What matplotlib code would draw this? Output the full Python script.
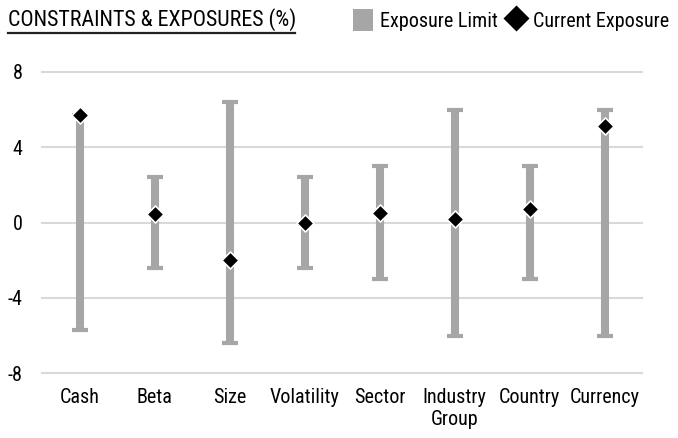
import matplotlib
matplotlib.use("Agg")
import matplotlib.pyplot as plt
from matplotlib import font_manager as fm
from matplotlib.lines import Line2D
from matplotlib.patches import Patch

# pick a narrow sans-serif close to Arial Narrow
installed = set(f.name for f in fm.fontManager.ttflist)
for fam in ['Liberation Sans Narrow', 'Arial Narrow', 'Roboto Condensed',
            'Archivo Narrow', 'PT Sans Narrow', 'Liberation Sans']:
    if fam in installed:
        break
plt.rcParams['font.family'] = [fam, 'DejaVu Sans']

# ---------------------------------------------------------------------------
# Data
# ---------------------------------------------------------------------------
categories = ["Cash", "Beta", "Size", "Volatility", "Sector",
              "Industry\nGroup", "Country", "Currency"]
limit_low = [-5.7, -2.4, -6.4, -2.4, -3.0, -6.0, -3.0, -6.0]
limit_high = [5.7, 2.4, 6.4, 2.4, 3.0, 6.0, 3.0, 6.0]
current_exposure = [5.7, 0.43, -2.0, 0.0, 0.48, 0.2, 0.74, 5.1]
y_ticks = [-8, -4, 0, 4, 8]

colors = {
    'bar': '#A6A6A6',
    'grid': '#D9D9D9',
    'marker': '#000000',
    'text': '#000000',
}

# ---------------------------------------------------------------------------
# Plot
# ---------------------------------------------------------------------------
fig = plt.figure(figsize=(6.78, 4.38), dpi=100)
ax = fig.add_axes([0.062, 0.148, 0.885, 0.688])

x = list(range(len(categories)))
mid = [(lo + hi) / 2 for lo, hi in zip(limit_low, limit_high)]
half = [(hi - lo) / 2 for lo, hi in zip(limit_low, limit_high)]

ax.errorbar(x, mid, yerr=half, fmt='none', ecolor=colors['bar'],
            elinewidth=5.8, capsize=5.8, capthick=3, zorder=2)
ax.scatter(x, current_exposure, marker='D', s=75, color=colors['marker'],
           edgecolors='white', linewidths=1.2, zorder=3)

ax.set_xlim(-0.5, len(categories) - 0.5)
ax.set_ylim(-8, 8)
ax.set_yticks(y_ticks)
ax.set_yticklabels([str(t) for t in y_ticks])
ax.set_xticks(x)
ax.set_xticklabels(categories, linespacing=1.2)

ax.grid(True, axis='y', color=colors['grid'], linewidth=1.5, zorder=0)
ax.set_axisbelow(True)
for gl in ax.get_ygridlines():
    gl.set_clip_on(False)
for s in ax.spines.values():
    s.set_visible(False)
ax.tick_params(axis='both', length=0, labelsize=14.5, colors=colors['text'])
ax.tick_params(axis='y', pad=14)
ax.tick_params(axis='x', pad=11)

# Title with underline
fig.text(8 / 678, 1 - 20 / 438, "CONSTRAINTS & EXPOSURES (%)", fontsize=15.8,
         ha='left', va='center', color=colors['text'])
fig.add_artist(Line2D([8 / 678, 295 / 678], [1 - 32.5 / 438, 1 - 32.5 / 438],
                      color='#222222', linewidth=1.6))

# Legend
handles = [
    Patch(facecolor=colors['bar'], edgecolor='none', label='Exposure Limit'),
    Line2D([], [], marker='D', color='none', markerfacecolor=colors['marker'],
           markeredgecolor='white', markersize=14, label='Current Exposure'),
]
fig.legend(handles=handles, loc='center right', bbox_to_anchor=(1.0, 1 - 20 / 438),
           ncol=2, frameon=False, fontsize=14.5, handlelength=1.0, handleheight=1.3,
           handletextpad=0.35, columnspacing=0.4, borderaxespad=0.05)

fig.savefig("out.png", dpi=100)
plt.close(fig)
